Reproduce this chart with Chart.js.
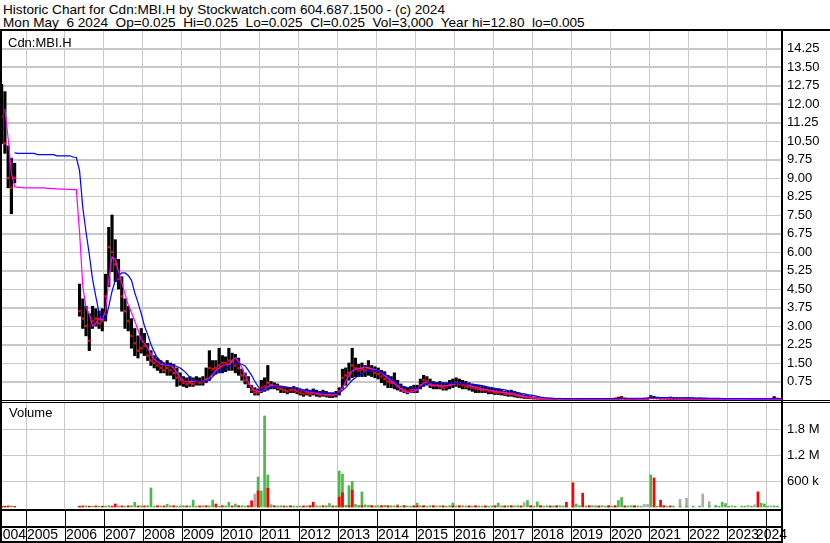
<!DOCTYPE html>
<html>
<head>
<meta charset="utf-8">
<script src="https://cdn.jsdelivr.net/npm/chart.js@4.4.1/dist/chart.umd.min.js"></script>
<style>
  body { margin: 0; background: #fff; }
  #wrap { position: relative; width: 830px; height: 543px; overflow: hidden;
          font-family: "Liberation Sans", Arial, sans-serif; font-size: 13px; color: #000; }
  .txt { position: absolute; white-space: pre; line-height: 13px; }
  .hd { font-size: 13.6px; }
  .ln { position: absolute; background: #000; }
  canvas { position: absolute; left: 0; }
</style>
</head>
<body>
<div id="wrap">
  <canvas id="price" width="830" height="370" style="top:30px"></canvas>
  <canvas id="volume" width="830" height="140" style="top:403px"></canvas>

  <div class="txt hd" style="left:3px;top:3px">Historic Chart for Cdn:MBI.H by Stockwatch.com 604.687.1500 - (c) 2024</div>
  <div class="txt hd" style="left:3px;top:16px">Mon May  6 2024  Op=0.025  Hi=0.025  Lo=0.025  Cl=0.025  Vol=3,000  Year hi=12.80  lo=0.005</div>
  <div class="txt" style="left:8px;top:36px">Cdn:MBI.H</div>
  <div class="txt" style="left:9px;top:406px">Volume</div>

  <div class="ln" style="left:0;top:29px;width:830px;height:2px"></div>
  <div class="ln" style="left:0;top:29px;width:2px;height:514px"></div>
  <div class="ln" style="left:781px;top:29px;width:2px;height:514px"></div>
  <div class="ln" style="left:0;top:400px;width:830px;height:1px"></div>
  <div class="ln" style="left:0;top:402px;width:830px;height:1px"></div>
</div>

<script>
// monthly samples, first one = mid May 2004
const firstMonth = 2004 + 4.5 / 12;

const yearLabels = ['2004','2005','2006','2007','2008','2009','2010','2011','2012','2013','2014',
                    '2015','2016','2017','2018','2019','2020','2021','2022','2023','2024'];
const priceTickLabels = ['0.75','1.50','2.25','3.00','3.75','4.50','5.25','6.00','6.75','7.50',
                         '8.25','9.00','9.75','10.50','11.25','12.00','12.75','13.50','14.25'];
const volTickValues = [600000, 1200000, 1800000];
const volTickLabels = ['600 k', '1.2 M', '1.8 M'];

const priceHigh = [
  12.8, 12.5, 10.3, 9.8, 9.6, null, null, null,
  null, null, null, null, null, null, null, null, null, null, null, null,
  null, null, null, null, 4.7, 4.1, 3.8, 3.5, 3.8, 3.7, 3.6, 3.7,
  5.1, 7.0, 7.5, 6.5, 5.7, 5.0, 4.1, 3.8, 3.3, 2.9, 2.6, 2.9,
  2.7, 2.3, 2.0, 1.8, 1.7, 1.6, 1.5, 1.6, 1.5, 1.45, 1.3, 1.1,
  0.95, 0.9, 0.95, 0.9, 0.95, 0.9, 0.95, 1.3, 2.0, 1.6, 1.6, 2.1,
  1.8, 1.75, 2.1, 1.9, 1.85, 1.7, 1.25, 1.1, 0.95, 0.6, 0.5, 0.45,
  0.8, 0.9, 1.4, 0.75, 0.7, 0.65, 0.55, 0.55, 0.5, 0.5, 0.55, 0.5,
  0.45, 0.4, 0.45, 0.4, 0.45, 0.4, 0.35, 0.4, 0.35, 0.3, 0.3, 0.35,
  0.5, 1.25, 1.3, 1.5, 2.1, 1.7, 1.45, 1.5, 1.4, 1.6, 1.4, 1.35,
  1.3, 1.2, 1.15, 1.0, 0.95, 1.1, 0.8, 0.65, 0.55, 0.5, 0.55, 0.6,
  0.6, 0.85, 1.0, 0.95, 0.85, 0.75, 0.7, 0.75, 0.7, 0.7, 0.8, 0.85,
  0.9, 0.85, 0.8, 0.75, 0.7, 0.65, 0.6, 0.6, 0.55, 0.55, 0.5, 0.5,
  0.45, 0.45, 0.4, 0.35, 0.35, 0.4, 0.35, 0.3, 0.25, 0.2, 0.18, 0.15,
  0.12, 0.1, 0.09, 0.08, 0.07, 0.07, 0.06, 0.06, 0.07, 0.06, 0.06, 0.05,
  0.06, 0.06, 0.05, 0.05, 0.06, 0.05, 0.05, 0.05, 0.06, 0.05, 0.05, 0.06,
  0.06, 0.08, 0.12, 0.14, 0.08, 0.06, 0.05, 0.06, 0.05, 0.06, 0.07, 0.08,
  0.18, 0.15, 0.12, 0.1, 0.1, 0.09, 0.12, 0.1, 0.09, 0.08, 0.08, 0.09,
  0.09, 0.08, 0.07, 0.08, 0.07, 0.06, 0.06, 0.06, 0.05, 0.06, 0.05, 0.05,
  0.05, 0.05, 0.05, 0.06, 0.05, 0.05, 0.05, 0.05, 0.05, 0.06, 0.05, 0.05,
  0.05, 0.06, 0.14, 0.06, 0.03
];

const priceLow = [
  10.4, 10.0, 8.6, 7.55, 8.8, null, null, null,
  null, null, null, null, null, null, null, null, null, null, null, null,
  null, null, null, null, 3.4, 2.9, 2.6, 2.0, 2.9, 3.0, 2.9, 2.8,
  3.2, 4.6, 5.2, 4.8, 4.5, 3.6, 2.9, 2.8, 2.1, 1.8, 1.7, 1.9,
  1.8, 1.6, 1.4, 1.3, 1.2, 1.1, 1.1, 1.0, 1.0, 0.85, 0.55, 0.6,
  0.55, 0.5, 0.55, 0.55, 0.6, 0.6, 0.6, 0.7, 0.8, 1.0, 1.05, 1.1,
  1.1, 1.15, 1.2, 1.2, 1.1, 1.0, 0.8, 0.65, 0.5, 0.3, 0.2, 0.2,
  0.3, 0.35, 0.4, 0.45, 0.45, 0.4, 0.3, 0.3, 0.25, 0.3, 0.3, 0.25,
  0.2, 0.15, 0.2, 0.15, 0.2, 0.15, 0.12, 0.15, 0.12, 0.1, 0.1, 0.12,
  0.2, 0.45, 0.6, 0.8, 0.9, 0.95, 0.95, 0.95, 0.95, 1.0, 0.95, 0.9,
  0.85, 0.7, 0.6, 0.5, 0.5, 0.45, 0.4, 0.35, 0.3, 0.25, 0.3, 0.3,
  0.3, 0.45, 0.55, 0.6, 0.5, 0.45, 0.45, 0.45, 0.4, 0.4, 0.45, 0.5,
  0.55, 0.5, 0.45, 0.45, 0.4, 0.35, 0.3, 0.3, 0.3, 0.3, 0.25, 0.25,
  0.22, 0.22, 0.2, 0.18, 0.15, 0.15, 0.12, 0.1, 0.08, 0.06, 0.05, 0.05,
  0.04, 0.04, 0.03, 0.03, 0.03, 0.03, 0.02, 0.02, 0.03, 0.02, 0.02, 0.02,
  0.02, 0.02, 0.015, 0.02, 0.02, 0.015, 0.02, 0.02, 0.02, 0.015, 0.02, 0.02,
  0.02, 0.02, 0.03, 0.04, 0.03, 0.02, 0.02, 0.02, 0.02, 0.02, 0.03, 0.03,
  0.06, 0.05, 0.05, 0.04, 0.04, 0.03, 0.03, 0.03, 0.03, 0.03, 0.03, 0.03,
  0.03, 0.03, 0.02, 0.02, 0.02, 0.02, 0.02, 0.02, 0.015, 0.02, 0.015, 0.015,
  0.015, 0.015, 0.01, 0.015, 0.01, 0.01, 0.01, 0.015, 0.01, 0.01, 0.01, 0.01,
  0.01, 0.01, 0.02, 0.02, 0.005
];

const priceClose = [
  11.5, 10.4, 9.0, 8.6, 9.0, null, null, null,
  null, null, null, null, null, null, null, null, null, null, null, null,
  null, null, null, null, 3.6, 3.3, 3.0, 2.4, 3.2, 3.3, 3.1, 3.2,
  4.2, 6.2, 6.0, 5.5, 4.9, 4.2, 3.6, 3.2, 2.6, 2.3, 2.0, 2.1,
  2.2, 1.8, 1.6, 1.5, 1.4, 1.3, 1.2, 1.3, 1.2, 1.1, 0.9, 0.8,
  0.7, 0.65, 0.7, 0.65, 0.75, 0.7, 0.75, 0.85, 1.3, 1.25, 1.3, 1.4,
  1.5, 1.5, 1.6, 1.55, 1.4, 1.3, 1.0, 0.8, 0.65, 0.4, 0.3, 0.3,
  0.5, 0.55, 0.7, 0.6, 0.55, 0.5, 0.45, 0.4, 0.35, 0.4, 0.4, 0.35,
  0.3, 0.25, 0.3, 0.25, 0.3, 0.25, 0.2, 0.25, 0.2, 0.18, 0.2, 0.22,
  0.35, 0.9, 1.0, 1.1, 1.4, 1.3, 1.2, 1.25, 1.2, 1.3, 1.2, 1.1,
  1.05, 0.95, 0.85, 0.75, 0.7, 0.7, 0.55, 0.45, 0.4, 0.35, 0.4, 0.45,
  0.45, 0.6, 0.8, 0.75, 0.65, 0.6, 0.6, 0.55, 0.5, 0.55, 0.6, 0.65,
  0.7, 0.65, 0.6, 0.55, 0.55, 0.5, 0.45, 0.45, 0.4, 0.4, 0.35, 0.35,
  0.3, 0.3, 0.3, 0.25, 0.25, 0.25, 0.2, 0.18, 0.15, 0.12, 0.1, 0.08,
  0.07, 0.06, 0.05, 0.05, 0.04, 0.04, 0.03, 0.03, 0.04, 0.03, 0.03, 0.03,
  0.03, 0.03, 0.025, 0.03, 0.03, 0.025, 0.03, 0.03, 0.03, 0.025, 0.03, 0.03,
  0.03, 0.04, 0.05, 0.06, 0.04, 0.03, 0.03, 0.03, 0.03, 0.03, 0.04, 0.05,
  0.1, 0.08, 0.07, 0.06, 0.06, 0.05, 0.05, 0.05, 0.05, 0.05, 0.04, 0.05,
  0.05, 0.04, 0.04, 0.04, 0.03, 0.03, 0.03, 0.03, 0.025, 0.03, 0.025, 0.025,
  0.025, 0.02, 0.02, 0.025, 0.02, 0.02, 0.02, 0.02, 0.02, 0.02, 0.02, 0.02,
  0.02, 0.02, 0.03, 0.05, 0.025
];

// magenta (short) moving average
const maShort = [
  null, 11.8, 10.6, 9.2, 8.65, 8.62, 8.62, 8.6,
  8.6, 8.6, 8.6, 8.6, 8.6, 8.6, 8.58, 8.58, 8.57, 8.56, 8.55, 8.55,
  8.54, 8.54, 8.53, 8.53, 6.8, 4.6, 3.75, 3.5, 3.0, 3.1, 3.3, 3.25,
  3.6, 4.9, 5.8, 5.7, 5.2, 4.75, 4.3, 3.85, 3.55, 3.2, 2.85, 2.45,
  2.3, 2.1, 1.85, 1.65, 1.55, 1.45, 1.42, 1.4, 1.4, 1.3, 1.1, 0.9,
  0.77, 0.75, 0.74, 0.75, 0.75, 0.74, 0.76, 0.8, 0.9, 1.05, 1.2, 1.3,
  1.4, 1.42, 1.45, 1.6, 1.72, 1.55, 1.32, 1.0, 0.72, 0.5, 0.38, 0.35,
  0.36, 0.42, 0.55, 0.6, 0.58, 0.57, 0.56, 0.54, 0.52, 0.5, 0.48, 0.47,
  0.42, 0.38, 0.35, 0.33, 0.3, 0.28, 0.26, 0.25, 0.23, 0.22, 0.22, 0.24,
  0.3, 0.48, 0.75, 1.0, 1.17, 1.25, 1.28, 1.3, 1.32, 1.3, 1.26, 1.22,
  1.18, 1.1, 0.98, 0.88, 0.77, 0.66, 0.57, 0.45, 0.36, 0.3, 0.32, 0.36,
  0.4, 0.55, 0.7, 0.68, 0.6, 0.58, 0.58, 0.57, 0.57, 0.58, 0.6, 0.63,
  0.66, 0.67, 0.67, 0.65, 0.6, 0.55, 0.52, 0.48, 0.45, 0.43, 0.4, 0.38,
  0.35, 0.33, 0.32, 0.3, 0.28, 0.27, 0.24, 0.2, 0.17, 0.14, 0.12, 0.1,
  0.08, 0.07, 0.06, 0.05, 0.05, 0.05, 0.04, 0.04, 0.04, 0.04, 0.04, 0.04,
  0.04, 0.04, 0.04, 0.04, 0.04, 0.04, 0.04, 0.04, 0.04, 0.04, 0.04, 0.04,
  0.04, 0.04, 0.05, 0.07, 0.06, 0.05, 0.04, 0.04, 0.04, 0.04, 0.04, 0.05,
  0.08, 0.09, 0.08, 0.07, 0.06, 0.06, 0.06, 0.06, 0.05, 0.05, 0.05, 0.05,
  0.05, 0.05, 0.04, 0.04, 0.04, 0.04, 0.035, 0.035, 0.03, 0.03, 0.03, 0.03,
  0.03, 0.025, 0.025, 0.025, 0.025, 0.025, 0.025, 0.025, 0.025, 0.025, 0.025, 0.025,
  0.025, 0.025, 0.03, 0.04, 0.035
];

// blue (long) moving average
const maLong = [
  null, null, null, null, 10.02, 10.0, 10.0, 10.0,
  10.0, 10.0, 10.0, 9.95, 9.95, 9.95, 9.95, 9.95, 9.95, 9.9, 9.9, 9.9,
  9.9, 9.9, 9.85, 9.83, 9.3, 7.8, 6.8, 5.9, 4.9, 4.2, 3.55, 3.35,
  3.25, 3.8, 4.4, 4.85, 5.05, 5.15, 5.15, 5.05, 4.85, 4.35, 3.95, 3.5,
  3.0, 2.65, 2.25, 1.95, 1.7, 1.58, 1.5, 1.45, 1.42, 1.4, 1.36, 1.3,
  1.2, 1.07, 0.92, 0.8, 0.74, 0.74, 0.76, 0.78, 0.8, 0.95, 1.07, 1.15,
  1.2, 1.28, 1.35, 1.42, 1.48, 1.48, 1.45, 1.38, 1.2, 1.0, 0.75, 0.55,
  0.42, 0.39, 0.45, 0.52, 0.55, 0.56, 0.55, 0.53, 0.51, 0.5, 0.48, 0.47,
  0.44, 0.41, 0.38, 0.36, 0.34, 0.32, 0.3, 0.28, 0.27, 0.26, 0.26, 0.26,
  0.3, 0.38, 0.5, 0.65, 0.8, 0.9, 1.0, 1.07, 1.13, 1.17, 1.2, 1.2,
  1.17, 1.13, 1.05, 0.97, 0.85, 0.75, 0.65, 0.58, 0.53, 0.5, 0.48, 0.47,
  0.47, 0.53, 0.6, 0.67, 0.7, 0.71, 0.71, 0.7, 0.69, 0.68, 0.67, 0.67,
  0.67, 0.66, 0.66, 0.65, 0.64, 0.63, 0.62, 0.6, 0.58, 0.55, 0.52, 0.49,
  0.47, 0.45, 0.43, 0.41, 0.38, 0.36, 0.33, 0.3, 0.27, 0.25, 0.22, 0.2,
  0.18, 0.15, 0.12, 0.1, 0.09, 0.08, 0.07, 0.06, 0.06, 0.06, 0.06, 0.06,
  0.06, 0.06, 0.06, 0.06, 0.06, 0.06, 0.06, 0.06, 0.06, 0.06, 0.06, 0.06,
  0.06, 0.06, 0.06, 0.07, 0.07, 0.07, 0.07, 0.07, 0.07, 0.07, 0.07, 0.08,
  0.1, 0.1, 0.1, 0.1, 0.1, 0.1, 0.1, 0.09, 0.09, 0.09, 0.09, 0.09,
  0.09, 0.09, 0.08, 0.08, 0.08, 0.08, 0.07, 0.07, 0.07, 0.07, 0.06, 0.06,
  0.06, 0.06, 0.06, 0.06, 0.06, 0.06, 0.05, 0.05, 0.05, 0.05, 0.05, 0.05,
  0.05, 0.05, 0.05, 0.06, 0.06
];

// volume in thousands of shares, split by up / down / unchanged day
const volUp = [
  20, 15, 0, 25, 0, 0, 0, 0,
  0, 0, 0, 0, 0, 0, 0, 0, 0, 0, 0, 0,
  0, 0, 0, 0, 15, 0, 25, 0, 20, 0, 15, 0,
  20, 30, 0, 0, 25, 0, 20, 0, 30, 110, 0, 25,
  0, 30, 440, 20, 0, 25, 0, 60, 30, 0, 20, 25,
  30, 0, 25, 160, 20, 0, 30, 0, 25, 160, 0, 20,
  0, 25, 110, 0, 70, 0, 30, 20, 0, 0, 0, 690,
  370, 2100, 740, 30, 0, 25, 30, 0, 20, 0, 25, 20,
  20, 0, 25, 0, 0, 30, 20, 0, 25, 80, 0, 30,
  830, 760, 40, 490, 590, 60, 40, 350, 50, 40, 30, 25,
  30, 25, 40, 20, 30, 25, 50, 20, 30, 25, 20, 30,
  90, 30, 25, 20, 30, 25, 20, 30, 25, 20, 30, 90,
  25, 20, 30, 20, 25, 20, 20, 25, 20, 25, 20, 25,
  20, 90, 25, 20, 30, 20, 25, 30, 20, 0, 150, 25,
  20, 120, 25, 20, 30, 20, 25, 20, 30, 25, 20, 0,
  20, 70, 30, 0, 25, 20, 30, 25, 20, 30, 20, 25,
  20, 25, 150, 220, 20, 25, 30, 20, 25, 20, 0, 0,
  740, 0, 20, 0, 25, 20, 0, 20, 0, 20, 0, 20,
  0, 20, 0, 20, 0, 0, 20, 0, 25, 20, 110, 80,
  20, 0, 20, 0, 20, 20, 0, 20, 0, 0, 90, 70,
  20, 0, 25, 20, 0
];

const volDown = [
  15, 20, 25, 0, 15, 0, 0, 0,
  0, 0, 0, 0, 0, 0, 0, 0, 0, 0, 0, 0,
  0, 0, 0, 0, 20, 25, 0, 20, 0, 25, 0, 20,
  0, 0, 20, 70, 0, 25, 0, 30, 0, 0, 25, 0,
  25, 0, 0, 0, 30, 0, 25, 0, 0, 30, 0, 0,
  0, 25, 0, 0, 0, 25, 0, 30, 0, 0, 70, 0,
  30, 0, 0, 25, 0, 30, 0, 0, 30, 145, 0, 370,
  0, 0, 430, 0, 30, 0, 0, 25, 0, 30, 0, 0,
  0, 25, 0, 30, 110, 0, 0, 30, 0, 0, 25, 0,
  230, 330, 0, 30, 390, 0, 0, 30, 0, 0, 30, 0,
  0, 30, 0, 30, 0, 0, 25, 0, 30, 0, 0, 25,
  25, 0, 30, 0, 0, 30, 0, 0, 25, 0, 0, 25,
  0, 30, 0, 0, 25, 0, 30, 0, 0, 25, 0, 0,
  30, 0, 0, 25, 0, 30, 0, 0, 25, 0, 0, 30,
  0, 0, 30, 0, 0, 25, 0, 30, 0, 0, 110, 0,
  560, 0, 0, 320, 0, 30, 0, 0, 25, 0, 0, 30,
  0, 30, 0, 0, 25, 0, 0, 30, 0, 0, 0, 0,
  0, 670, 0, 160, 30, 0, 25, 0, 0, 0, 0, 0,
  0, 0, 0, 0, 0, 0, 0, 0, 0, 0, 0, 0,
  0, 0, 0, 0, 0, 0, 0, 0, 0, 350, 0, 0,
  0, 0, 0, 0, 0
];

const volFlat = [
  0, 0, 0, 0, 0, 0, 0, 0,
  0, 0, 0, 0, 0, 0, 0, 0, 0, 0, 0, 0,
  0, 0, 0, 0, 0, 0, 0, 0, 0, 0, 0, 0,
  0, 0, 0, 0, 0, 0, 0, 0, 0, 0, 0, 0,
  0, 0, 0, 0, 0, 0, 0, 0, 0, 0, 0, 0,
  0, 0, 0, 0, 0, 0, 0, 0, 0, 0, 20, 0,
  0, 0, 0, 0, 0, 0, 0, 0, 0, 0, 300, 0,
  0, 0, 0, 60, 0, 0, 0, 0, 0, 0, 0, 0,
  0, 0, 0, 30, 0, 0, 0, 0, 25, 0, 0, 0,
  0, 0, 0, 0, 0, 0, 25, 0, 0, 0, 0, 0,
  0, 0, 0, 0, 0, 0, 0, 0, 0, 0, 0, 0,
  0, 0, 0, 0, 0, 0, 0, 0, 0, 0, 0, 0,
  0, 0, 0, 0, 0, 0, 0, 0, 0, 0, 0, 0,
  0, 0, 0, 0, 0, 0, 0, 0, 0, 100, 0, 0,
  0, 0, 0, 0, 0, 0, 0, 0, 0, 0, 0, 0,
  0, 0, 0, 0, 0, 0, 0, 20, 0, 0, 0, 0,
  0, 0, 0, 0, 0, 0, 0, 0, 0, 0, 60, 60,
  0, 0, 0, 0, 0, 0, 0, 0, 0, 175, 0, 200,
  0, 0, 0, 0, 300, 0, 120, 0, 40, 0, 0, 0,
  0, 30, 0, 0, 0, 0, 40, 0, 50, 0, 0, 0,
  0, 30, 0, 0, 0
];

const gridColor = '#c8c8c8';
const xMin = 2004.3838;
const xMax = 2024.4095;
const yearStarts = yearLabels.slice(1).map(Number);

Chart.defaults.font.family = '"Liberation Sans", Arial, sans-serif';
Chart.defaults.font.size = 13;
Chart.defaults.color = '#000';

function monthX(i) {
  return firstMonth + i / 12;
}

function linePoints(values) {
  return values.map((v, i) => ({ x: monthX(i), y: v }));
}

function volPoints(values) {
  return values.map((v, i) => v ? { x: monthX(i), y: v * 1000 } : null).filter(p => p);
}

const rangeBars = priceHigh
  .map((h, i) => h == null ? null : { x: monthX(i), y: [priceLow[i], h] })
  .filter(p => p);

// keep the plot area edge to edge: no label padding from the axes
function noPad(s) {
  s.paddingTop = 0;
  s.paddingBottom = 0;
  s.paddingLeft = 0;
  s.paddingRight = 0;
}

function xAxis(height) {
  return {
    type: 'linear', min: xMin, max: xMax, offset: false,
    grid: { color: gridColor, drawTicks: false, offset: false },
    border: { display: false },
    ticks: { display: false },
    afterBuildTicks: s => { s.ticks = yearStarts.map(v => ({ value: v })); },
    afterFit: s => { s.height = height; noPad(s); }
  };
}

// horizontal grid lines at the value ticks
const hGrid = {
  id: 'hGrid',
  beforeDatasetsDraw(chart) {
    const ctx = chart.ctx;
    const ys = chart.scales.y;
    const a = chart.chartArea;
    ctx.save();
    ctx.strokeStyle = gridColor;
    ctx.lineWidth = 1;
    ys.ticks.forEach(t => {
      const py = Math.round(ys.getPixelForValue(t.value)) + 0.5;
      ctx.beginPath();
      ctx.moveTo(a.left, py);
      ctx.lineTo(a.right, py);
      ctx.stroke();
    });
    ctx.restore();
  }
};

const basePlugins = { legend: { display: false }, tooltip: { enabled: false } };
const baseLayout = { autoPadding: false, padding: { left: 2, top: 0, right: 0, bottom: 0 } };

new Chart(document.getElementById('price'), {
  type: 'bar',
  data: {
    datasets: [
      { type: 'line', data: linePoints(maLong), borderColor: '#0000ff', borderWidth: 1.2,
        pointRadius: 0, tension: 0, order: 1 },
      { type: 'line', data: linePoints(maShort), borderColor: '#ff00ff', borderWidth: 1.2,
        pointRadius: 0, tension: 0, order: 2 },
      { type: 'line', data: linePoints(priceClose), showLine: false, pointStyle: 'rect',
        pointRadius: 1.7, pointBorderWidth: 0, pointBackgroundColor: '#ff0000', order: 3 },
      { type: 'bar', data: rangeBars, backgroundColor: '#000000', barThickness: 2.5,
        grouped: false, order: 4 }
    ]
  },
  options: {
    responsive: false,
    animation: false,
    layout: baseLayout,
    plugins: basePlugins,
    scales: {
      x: xAxis(0),
      y: {
        position: 'right', min: 0, max: 15,
        grid: { color: gridColor, drawTicks: false },
        border: { display: false },
        ticks: { padding: 5, color: '#000', callback: (v, i) => priceTickLabels[i] },
        afterBuildTicks: s => { s.ticks = priceTickLabels.map(t => ({ value: parseFloat(t) })); },
        afterFit: s => { s.width = 48; noPad(s); }
      }
    }
  },
  plugins: [hGrid]
});

// year strip under the volume panel
const yearStrip = {
  id: 'yearStrip',
  afterDraw(chart) {
    const ctx = chart.ctx;
    const xs = chart.scales.x;
    const right = chart.chartArea.right;
    ctx.save();
    ctx.fillStyle = '#000';
    ctx.fillRect(0, 106, right, 2);
    ctx.fillRect(0, 123, right, 2);
    ctx.fillRect(0, 138, right, 2);
    yearStarts.forEach(y => {
      const px = Math.round(xs.getPixelForValue(y));
      ctx.fillRect(px, 106, 1, 34);
    });
    ctx.font = '14px "Liberation Sans", Arial, sans-serif';
    ctx.textBaseline = 'alphabetic';
    yearLabels.forEach((lab, k) => {
      let px;
      if (k === 0) {
        ctx.textAlign = 'right';
        px = Math.round(xs.getPixelForValue(yearStarts[0]));
      } else if (k === yearLabels.length - 1) {
        ctx.textAlign = 'right';
        px = right + 5;
      } else {
        ctx.textAlign = 'left';
        px = Math.round(xs.getPixelForValue(Number(lab))) + 1;
      }
      ctx.fillText(lab, px, 136);
    });
    ctx.restore();
  }
};

new Chart(document.getElementById('volume'), {
  type: 'bar',
  data: {
    datasets: [
      { data: volPoints(volDown), backgroundColor: '#ff0000', barThickness: 2, grouped: false, order: 1 },
      { data: volPoints(volUp), backgroundColor: '#4cb848', barThickness: 2, grouped: false, order: 2 },
      { data: volPoints(volFlat), backgroundColor: '#aaaaaa', barThickness: 2, grouped: false, order: 3 }
    ]
  },
  options: {
    responsive: false,
    animation: false,
    layout: baseLayout,
    plugins: basePlugins,
    scales: {
      x: xAxis(35),
      y: {
        position: 'right', min: -23000, max: 2400077,
        grid: { color: gridColor, drawTicks: false },
        border: { display: false },
        ticks: { padding: 5, color: '#000', callback: (v, i) => volTickLabels[i] },
        afterBuildTicks: s => { s.ticks = volTickValues.map(v => ({ value: v })); },
        afterFit: s => { s.width = 48; noPad(s); }
      }
    }
  },
  plugins: [hGrid, yearStrip]
});
</script>
</body>
</html>
